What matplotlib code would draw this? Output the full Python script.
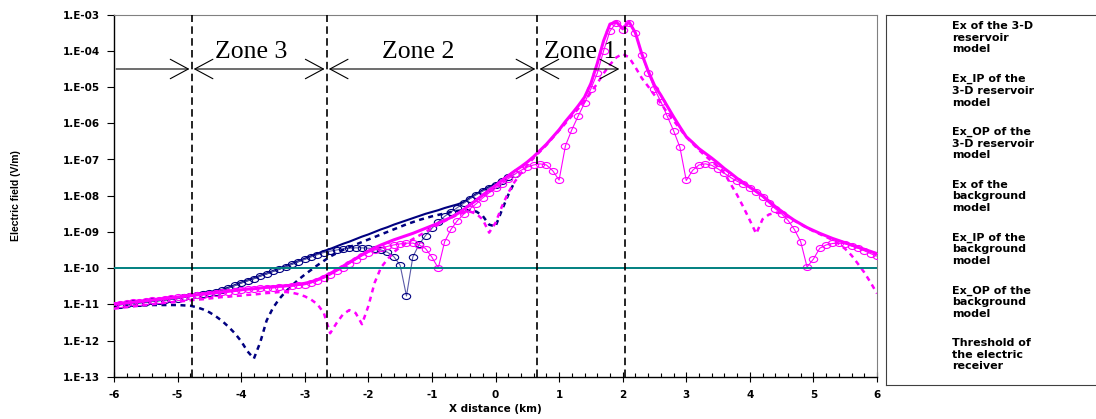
import numpy as np
import matplotlib
matplotlib.use("Agg")
import matplotlib.pyplot as plt
from matplotlib.ticker import MultipleLocator, FixedLocator, FuncFormatter, NullLocator
from matplotlib.patches import FancyArrowPatch, ArrowStyle
from matplotlib.lines import Line2D
from matplotlib.path import Path
from matplotlib.transforms import Affine2D

# ---------------------------------------------------------------- data
# receiver positions along the profile (km), every 100 m
x_km = np.round(np.linspace(-6.0, 6.0, 121), 1)

# log10 |E| (V/m) of the background (no reservoir) model
bg_ex_log = [
    -11.00, -10.98, -10.96, -10.94, -10.92, -10.90, -10.88, -10.86, -10.84, -10.82,
    -10.80, -10.78, -10.76, -10.74, -10.72, -10.70, -10.68, -10.66, -10.64, -10.62,
    -10.60, -10.58, -10.57, -10.55, -10.53, -10.52, -10.50, -10.49, -10.47, -10.45,
    -10.42, -10.38, -10.32, -10.24, -10.15, -10.05, -9.95, -9.84, -9.74, -9.63,
    -9.53, -9.44, -9.36, -9.29, -9.22, -9.16, -9.10, -9.04, -8.97, -8.90,
    -8.83, -8.76, -8.68, -8.60, -8.50, -8.38, -8.25, -8.12, -7.98, -7.85,
    -7.72, -7.58, -7.45, -7.32, -7.20, -7.07, -6.92, -6.75, -6.58, -6.38,
    -6.18, -5.95, -5.74, -5.52, -5.28, -4.90, -4.35, -3.72, -3.26, -3.20,
    -3.38, -3.20, -3.50, -4.08, -4.55, -4.95, -5.22, -5.52, -5.82, -6.10,
    -6.37, -6.53, -6.70, -6.83, -6.96, -7.10, -7.25, -7.38, -7.52, -7.64,
    -7.76, -7.88, -8.00, -8.15, -8.30, -8.43, -8.56, -8.68, -8.78, -8.88,
    -8.96, -9.04, -9.11, -9.18, -9.24, -9.30, -9.36, -9.42, -9.48, -9.54,
    -9.60,
]
bg_ip_log = [
    -11.01, -10.99, -10.97, -10.95, -10.93, -10.91, -10.89, -10.87, -10.85, -10.83,
    -10.81, -10.79, -10.77, -10.75, -10.73, -10.71, -10.69, -10.67, -10.65, -10.63,
    -10.61, -10.59, -10.58, -10.56, -10.55, -10.54, -10.52, -10.51, -10.50, -10.48,
    -10.46, -10.41, -10.35, -10.28, -10.19, -10.09, -9.99, -9.88, -9.77, -9.66,
    -9.57, -9.50, -9.45, -9.40, -9.36, -9.33, -9.31, -9.31, -9.36, -9.46,
    -9.70, -10.00, -9.27, -8.93, -8.69, -8.51, -8.36, -8.22, -8.06, -7.92,
    -7.80, -7.67, -7.53, -7.41, -7.30, -7.21, -7.15, -7.12, -7.15, -7.31,
    -7.57, -6.62, -6.18, -5.80, -5.44, -5.05, -4.62, -4.00, -3.45, -3.22,
    -3.42, -3.22, -3.51, -4.12, -4.60, -5.05, -5.40, -5.80, -6.20, -6.66,
    -7.58, -7.30, -7.15, -7.12, -7.16, -7.26, -7.38, -7.50, -7.60, -7.69,
    -7.79, -7.91, -8.04, -8.20, -8.36, -8.50, -8.68, -8.93, -9.27, -9.97,
    -9.75, -9.45, -9.36, -9.32, -9.31, -9.33, -9.39, -9.45, -9.52, -9.60,
    -9.67,
]
bg_op_log = [
    -11.12, -11.10, -11.08, -11.06, -11.04, -11.02, -11.00, -10.98, -10.96, -10.95,
    -10.93, -10.91, -10.89, -10.87, -10.86, -10.84, -10.82, -10.80, -10.79, -10.77,
    -10.76, -10.74, -10.73, -10.71, -10.69, -10.68, -10.66, -10.66, -10.68, -10.72,
    -10.78, -10.87, -11.00, -11.24, -11.80, -11.52, -11.28, -11.16, -11.24, -11.55,
    -11.05, -10.40, -9.98, -9.76, -9.56, -9.42, -9.30, -9.20, -9.10, -9.00,
    -8.90, -8.80, -8.70, -8.61, -8.53, -8.47, -8.44, -8.50, -8.66, -9.02,
    -8.75, -8.30, -7.92, -7.62, -7.38, -7.16, -6.96, -6.78, -6.60, -6.40,
    -6.20, -6.00, -5.80, -5.60, -5.40, -5.15, -4.90, -4.62, -4.38, -4.18,
    -4.08, -4.18, -4.45, -4.75, -4.98, -5.22, -5.45, -5.70, -5.92, -6.15,
    -6.38, -6.56, -6.74, -6.90, -7.05, -7.20, -7.38, -7.68, -7.98, -8.32,
    -8.68, -9.05, -8.65, -8.52, -8.47, -8.48, -8.58, -8.69, -8.79, -8.89,
    -8.98, -9.06, -9.14, -9.22, -9.33, -9.47, -9.65, -9.88, -10.12, -10.40,
    -10.70,
]

# log10 |E| (V/m) of the 3-D reservoir model from -6.0 to 0.3 km;
# further east it lies under the background curves
res_ex_log = [
    -11.02, -11.00, -10.98, -10.96, -10.95, -10.93, -10.91, -10.89, -10.87, -10.85,
    -10.83, -10.80, -10.77, -10.74, -10.70, -10.67, -10.64, -10.60, -10.54, -10.47,
    -10.40, -10.34, -10.28, -10.21, -10.15, -10.08, -10.02, -9.95, -9.88, -9.81,
    -9.74, -9.67, -9.60, -9.53, -9.47, -9.40, -9.33, -9.27, -9.20, -9.13,
    -9.07, -9.00, -8.93, -8.87, -8.80, -8.74, -8.68, -8.62, -8.56, -8.50,
    -8.45, -8.40, -8.34, -8.29, -8.24, -8.18, -8.06, -7.95, -7.85, -7.76,
    -7.68, -7.57, -7.45, -7.32,
]
res_ip_log = [
    -11.03, -11.01, -10.99, -10.97, -10.96, -10.94, -10.92, -10.90, -10.88, -10.86,
    -10.84, -10.81, -10.78, -10.75, -10.71, -10.68, -10.65, -10.61, -10.55, -10.48,
    -10.41, -10.35, -10.29, -10.22, -10.16, -10.09, -10.03, -9.96, -9.89, -9.82,
    -9.76, -9.69, -9.63, -9.57, -9.53, -9.50, -9.47, -9.45, -9.44, -9.44,
    -9.45, -9.47, -9.50, -9.56, -9.68, -9.92, -10.77, -9.69, -9.34, -9.10,
    -8.90, -8.72, -8.57, -8.45, -8.33, -8.21, -8.08, -7.97, -7.87, -7.78,
    -7.70, -7.60, -7.48, -7.41,
]
res_op_log = [
    -11.05, -11.05, -11.04, -11.04, -11.03, -11.03, -11.02, -11.02, -11.02, -11.02,
    -11.02, -11.03, -11.04, -11.08, -11.14, -11.22, -11.33, -11.46, -11.62, -11.80,
    -12.02, -12.30, -12.50, -12.05, -11.45, -11.10, -10.85, -10.65, -10.48, -10.32,
    -10.18, -10.05, -9.92, -9.80, -9.68, -9.59, -9.50, -9.42, -9.35, -9.28,
    -9.21, -9.14, -9.07, -9.00, -8.93, -8.86, -8.79, -8.73, -8.67, -8.62,
    -8.57, -8.53, -8.49, -8.45, -8.42, -8.40, -8.40, -8.44, -8.56, -8.80,
    -8.85, -8.40, -7.98, -7.62,
]

threshold = 1e-10                        # receiver noise floor (V/m)
zone_edges = [-4.78, -2.655, 0.66, 2.04]  # km
zone_names = ["Zone 3", "Zone 2", "Zone 1"]
zone_label_x = [-3.85, -1.22, 1.33]
zone_arrow_level = 10 ** -4.5
zone_label_level = 10 ** -4.2

series_labels = [
    "Ex of the 3-D\nreservoir\nmodel",
    "Ex_IP of the\n3-D reservoir\nmodel",
    "Ex_OP of the\n3-D reservoir\nmodel",
    "Ex of the\nbackground\nmodel",
    "Ex_IP of the\nbackground\nmodel",
    "Ex_OP of the\nbackground\nmodel",
    "Threshold of\nthe electric\nreceiver",
]

# ---------------------------------------------------------------- arrays
bg_ex = 10.0 ** np.array(bg_ex_log)
bg_ip = 10.0 ** np.array(bg_ip_log)
bg_op = 10.0 ** np.array(bg_op_log)
res_ex = 10.0 ** np.array(res_ex_log)
res_ip = 10.0 ** np.array(res_ip_log)
res_op = 10.0 ** np.array(res_op_log)
x_res = x_km[:len(res_ex)]

# ---------------------------------------------------------------- style
NAVY = "#000080"
NAVY_LIGHT = "#5a5aa8"
MAGENTA = "#FF00FF"
TEAL = "#008080"
plt.rcParams["font.family"] = ["DejaVu Sans"]
plt.rcParams["font.weight"] = "bold"

W, H = 1096, 419
fig = plt.figure(figsize=(W / 100, H / 100), dpi=100)
fig.patch.set_facecolor("white")

L, R, T, B = 114, 877, 14.7, 376.7
ax = fig.add_axes([L / W, 1 - B / H, (R - L) / W, (B - T) / H])
ax.set_yscale("log")
ax.set_xlim(-6, 6)
ax.set_ylim(1e-13, 1e-3)

# open, slightly flattened circle marker
oval = Path.unit_circle().transformed(Affine2D().scale(1.0, 0.72))
dash = (0, (2.0, 1.8))

h1, = ax.plot(x_res, res_ex, color=NAVY, lw=1.5, zorder=2)
h2, = ax.plot(x_res, res_ip, color=NAVY_LIGHT, lw=0.8, marker=oval, ms=6,
              mfc="none", mec=NAVY, mew=0.8, zorder=2)
h3, = ax.plot(x_res, res_op, color=NAVY, lw=1.8, ls=dash, zorder=2)
h4, = ax.plot(x_km, bg_ex, color=MAGENTA, lw=2.2, zorder=3)
h5, = ax.plot(x_km, bg_ip, color=MAGENTA, lw=0.8, marker=oval, ms=6,
              mfc="none", mec=MAGENTA, mew=0.8, zorder=3)
h6, = ax.plot(x_km, bg_op, color=MAGENTA, lw=1.8, ls=dash, zorder=3)
h7 = ax.axhline(threshold, color=TEAL, lw=1.4, zorder=4)
handles = [h1, h2, h3, h4, h5, h6, h7]

# zone boundaries
for xe in zone_edges:
    ax.axvline(xe, color="black", lw=1.2, ls=(0, (4.5, 2.6)), zorder=5)


def span_arrow(x0, x1, style):
    """Horizontal extent arrow at the zone-marker level."""
    ar = FancyArrowPatch((x0, zone_arrow_level), (x1, zone_arrow_level),
                         arrowstyle=ArrowStyle(style, head_length=13, head_width=7),
                         mutation_scale=1, lw=0.8, color="black",
                         shrinkA=1.5, shrinkB=1.5, zorder=6)
    ax.add_patch(ar)


span_arrow(-6.0, zone_edges[0], "->")
for i in range(3):
    span_arrow(zone_edges[i], zone_edges[i + 1] - (0.06 if i == 2 else 0.0), "<->")
for name, xl in zip(zone_names, zone_label_x):
    ax.text(xl, zone_label_level, name, ha="center", va="baseline",
            family="Liberation Serif", fontweight="normal", fontsize=18.5, zorder=6)

# axes decoration
ax.yaxis.set_major_locator(FixedLocator([10.0 ** e for e in range(-13, -2)]))
ax.yaxis.set_minor_locator(NullLocator())
ax.yaxis.set_major_formatter(FuncFormatter(lambda v, p: f"1.E{int(round(np.log10(v))):03d}"))
ax.xaxis.set_major_locator(MultipleLocator(1))
ax.xaxis.set_minor_locator(MultipleLocator(0.2))
ax.xaxis.set_major_formatter(FuncFormatter(lambda v, p: f"{int(round(v))}"))

ax.tick_params(axis="y", which="major", direction="out", length=5, width=0.8,
               pad=5, labelsize=7.5)
ax.tick_params(axis="x", which="major", direction="inout", length=7, width=0.8,
               pad=6, labelsize=7.5)
ax.tick_params(axis="x", which="minor", direction="in", length=3, width=0.8)

for side in ("top", "right"):
    ax.spines[side].set_color("#808080")
    ax.spines[side].set_linewidth(0.8)
for side in ("left", "bottom"):
    ax.spines[side].set_color("black")
    ax.spines[side].set_linewidth(1.0)

ax.set_xlabel("X distance (km)", fontsize=7.5, fontweight="bold")
ax.xaxis.set_label_coords(0.5, (B - 404) / (B - T))
ax.set_ylabel("Electric field (V/m)", family="Liberation Sans", fontsize=7.5,
              fontweight="bold")
ax.yaxis.set_label_coords((21 - L) / (R - L), 0.5)

# legend panel
lx0, lx1, ly0, ly1 = 886, 1110, 15, 385
lax = fig.add_axes([lx0 / W, 1 - ly1 / H, (lx1 - lx0) / W, (ly1 - ly0) / H])
lax.set_xlim(lx0, lx1)
lax.set_ylim(ly1, ly0)
lax.set_xticks([])
lax.set_yticks([])
for sp in lax.spines.values():
    sp.set_color("#404040")
    sp.set_linewidth(0.8)

for k, (h, lab) in enumerate(zip(handles, series_labels)):
    yk = 27.3 + k * 52.8
    seg = Line2D([896, 921.5, 947], [yk, yk, yk])
    seg.update_from(h)
    seg.set_markevery([1])
    if h in (h3, h6):
        seg.set_linestyle((0, (3.2, 2.8)))
    if h is h2:
        seg.set_color("#9999cc")
        seg.set_markerfacecolor("#c8c8e8")
    lax.add_line(seg)
    lax.text(952, yk - 6.0, lab, ha="left", va="top", fontsize=8,
             fontweight="bold", linespacing=1.2)

fig.savefig("out.png", dpi=100)
